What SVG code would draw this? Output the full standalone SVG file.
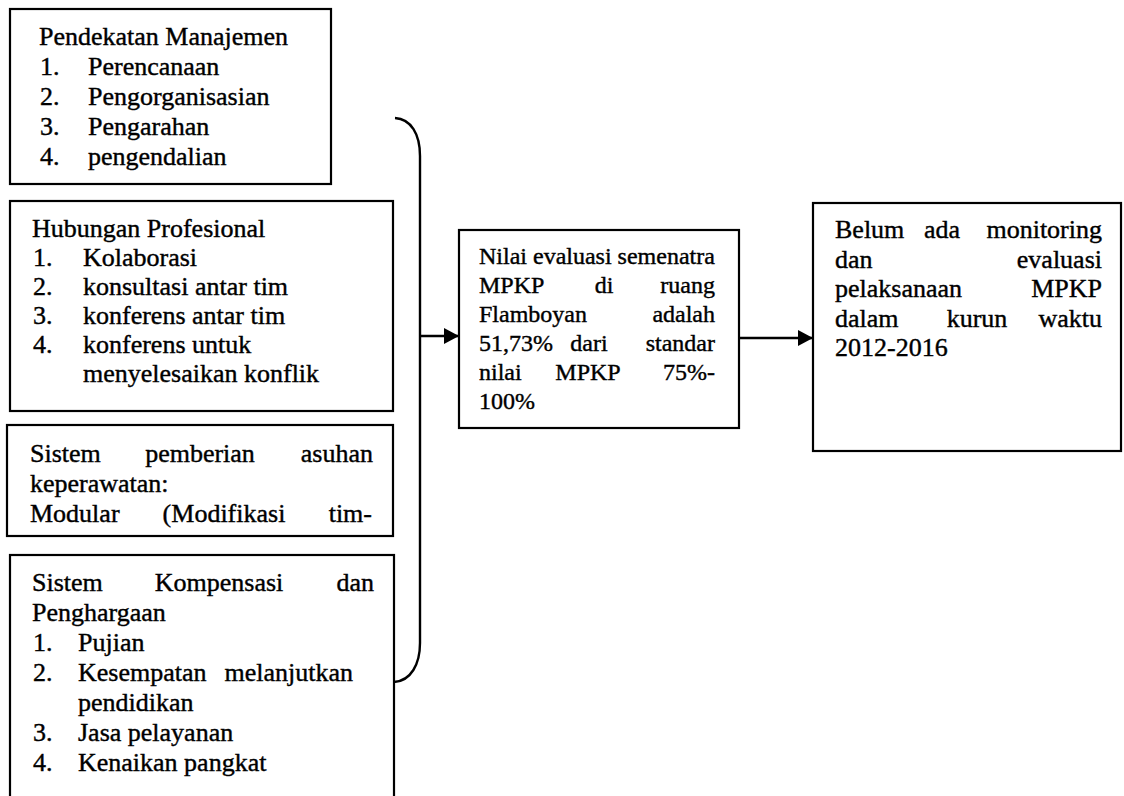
<svg xmlns="http://www.w3.org/2000/svg" width="1124" height="796" viewBox="0 0 1124 796">
  <style>
    .box { fill: #ffffff; stroke: #000000; stroke-width: 2.2; }
    .t { font-family: "Liberation Serif", "Times New Roman", serif; font-size: 26px; fill: #000000; stroke: #000000; stroke-width: 0.4; }
    .s { font-family: "Liberation Serif", "Times New Roman", serif; font-size: 24px; fill: #000000; stroke: #000000; stroke-width: 0.4; }
    .e { text-anchor: end; }
    .m { text-anchor: middle; }
    .link { fill: none; stroke: #000000; stroke-width: 2.4; }
  </style>
  <defs>
    <marker id="arrow" markerUnits="userSpaceOnUse" markerWidth="15" markerHeight="16" refX="14" refY="8" orient="auto">
      <path d="M0,0 L15,8 L0,16 z" fill="#000000"/>
    </marker>
  </defs>
  <rect width="1124" height="796" fill="#ffffff"/>

  <!-- management approach -->
  <g id="pendekatan-manajemen">
    <rect class="box" x="10" y="9" width="321" height="175"/>
    <text class="t" x="39" y="45">Pendekatan Manajemen</text>
    <text class="t" x="40" y="75">1.</text><text class="t" x="88" y="75">Perencanaan</text>
    <text class="t" x="40" y="105">2.</text><text class="t" x="88" y="105">Pengorganisasian</text>
    <text class="t" x="40" y="135">3.</text><text class="t" x="88" y="135">Pengarahan</text>
    <text class="t" x="40" y="165">4.</text><text class="t" x="88" y="165">pengendalian</text>
  </g>

  <!-- professional relations -->
  <g id="hubungan-profesional">
    <rect class="box" x="10" y="201" width="383" height="210"/>
    <text class="t" x="32" y="237">Hubungan Profesional</text>
    <text class="t" x="33" y="266">1.</text><text class="t" x="83" y="266">Kolaborasi</text>
    <text class="t" x="33" y="295">2.</text><text class="t" x="83" y="295">konsultasi antar tim</text>
    <text class="t" x="33" y="324">3.</text><text class="t" x="83" y="324">konferens antar tim</text>
    <text class="t" x="33" y="353">4.</text><text class="t" x="83" y="353">konferens untuk</text>
    <text class="t" x="83" y="382">menyelesaikan konflik</text>
  </g>

  <!-- care delivery system -->
  <g id="sistem-asuhan">
    <rect class="box" x="7" y="425" width="386" height="111"/>
    <text class="t" y="462"><tspan x="30">Sistem</tspan><tspan class="m" x="200">pemberian</tspan><tspan class="e" x="373">asuhan</tspan></text>
    <text class="t" x="30" y="492">keperawatan:</text>
    <text class="t" y="522"><tspan x="30">Modular</tspan><tspan class="m" x="224">(Modifikasi</tspan><tspan class="e" x="372">tim-</tspan></text>
  </g>

  <!-- compensation and reward system -->
  <g id="sistem-kompensasi">
    <rect class="box" x="10" y="555" width="384" height="260"/>
    <text class="t" y="591"><tspan x="32">Sistem</tspan><tspan class="m" x="219">Kompensasi</tspan><tspan class="e" x="374">dan</tspan></text>
    <text class="t" x="32" y="621">Penghargaan</text>
    <text class="t" x="33" y="651">1.</text><text class="t" x="78" y="651">Pujian</text>
    <text class="t" x="33" y="681">2.</text><text class="t" y="681"><tspan x="78">Kesempatan</tspan><tspan class="e" x="353">melanjutkan</tspan></text>
    <text class="t" x="78" y="711">pendidikan</text>
    <text class="t" x="33" y="741">3.</text><text class="t" x="78" y="741">Jasa pelayanan</text>
    <text class="t" x="33" y="771">4.</text><text class="t" x="78" y="771">Kenaikan pangkat</text>
  </g>

  <!-- interim evaluation score -->
  <g id="nilai-evaluasi">
    <rect class="box" x="459" y="230" width="280" height="198"/>
    <text class="s" x="479" y="264">Nilai evaluasi semenatra</text>
    <text class="s" y="293"><tspan x="479">MPKP</tspan><tspan class="m" x="604">di</tspan><tspan class="e" x="715">ruang</tspan></text>
    <text class="s" y="322"><tspan x="479">Flamboyan</tspan><tspan class="e" x="715">adalah</tspan></text>
    <text class="s" y="351"><tspan x="479">51,73%</tspan><tspan class="m" x="589">dari</tspan><tspan class="e" x="715">standar</tspan></text>
    <text class="s" y="380"><tspan x="479">nilai</tspan><tspan class="m" x="588">MPKP</tspan><tspan class="e" x="715">75%-</tspan></text>
    <text class="s" x="479" y="409">100%</text>
  </g>

  <!-- monitoring gap -->
  <g id="belum-monitoring">
    <rect class="box" x="813" y="203" width="308" height="248"/>
    <text class="t" y="238"><tspan x="835">Belum</tspan><tspan class="m" x="942">ada</tspan><tspan class="e" x="1102">monitoring</tspan></text>
    <text class="t" y="267.5"><tspan x="835">dan</tspan><tspan class="e" x="1102">evaluasi</tspan></text>
    <text class="t" y="297"><tspan x="835">pelaksanaan</tspan><tspan class="e" x="1102">MPKP</tspan></text>
    <text class="t" y="326.5"><tspan x="835">dalam</tspan><tspan class="m" x="977">kurun</tspan><tspan class="e" x="1102">waktu</tspan></text>
    <text class="t" x="835" y="356">2012-2016</text>
  </g>

  <!-- connectors -->
  <g id="connectors">
    <path class="link" d="M395,118 C411,119 420,134 420,156 L420,643 C420,664 411,681 394,682"/>
    <path class="link" d="M420,336 L458,336" marker-end="url(#arrow)"/>
    <path class="link" d="M739,338 L812,338" marker-end="url(#arrow)"/>
  </g>
</svg>
